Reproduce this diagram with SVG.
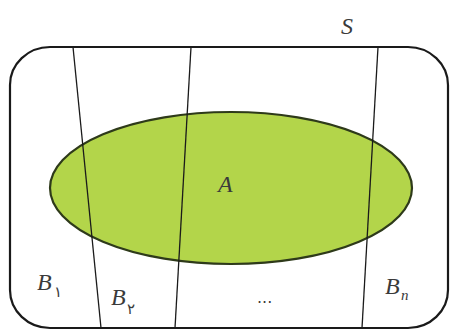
<svg xmlns="http://www.w3.org/2000/svg" width="453" height="333" viewBox="0 0 453 333">
<style>
.t{font-family:'Liberation Serif','Times New Roman','DejaVu Serif',serif;font-style:italic;font-size:24px;fill:#3a3a3a}
.s{font-family:'DejaVu Sans','Noto Sans',sans-serif;font-size:15px;fill:#3a3a3a}
.ln{stroke:#1a1a1a;stroke-width:1.3;fill:none}
</style>
<rect width="453" height="333" fill="#fff"/>
<g id="S">
<rect x="10" y="47" width="438" height="281" rx="40" ry="38" fill="#fff" stroke="#1a1a1a" stroke-width="2.2"/>
<text class="t" x="341" y="34">S</text>
</g>
<g id="A">
<ellipse cx="231" cy="188" rx="181" ry="76" fill="#b3d54a" stroke="#2e3a1a" stroke-width="2.2"/>
<text class="t" x="218" y="192">A</text>
</g>
<g id="connectors">
<line class="ln" x1="73" y1="47" x2="101" y2="328"/>
<line class="ln" x1="191" y1="47" x2="175" y2="328"/>
<line class="ln" x1="378" y1="47" x2="362" y2="328"/>
</g>
<g id="B1"><text class="t" x="37" y="290">B</text><text class="s" x="54" y="297">۱</text></g>
<g id="B2"><text class="t" x="111" y="305">B</text><text class="s" x="127" y="314">۲</text></g>
<g id="dots"><text class="s" x="257" y="303" style="font-size:16px">...</text></g>
<g id="Bn"><text class="t" x="385" y="294">B</text><text class="t" x="401" y="300" style="font-size:15px">n</text></g>
</svg>
